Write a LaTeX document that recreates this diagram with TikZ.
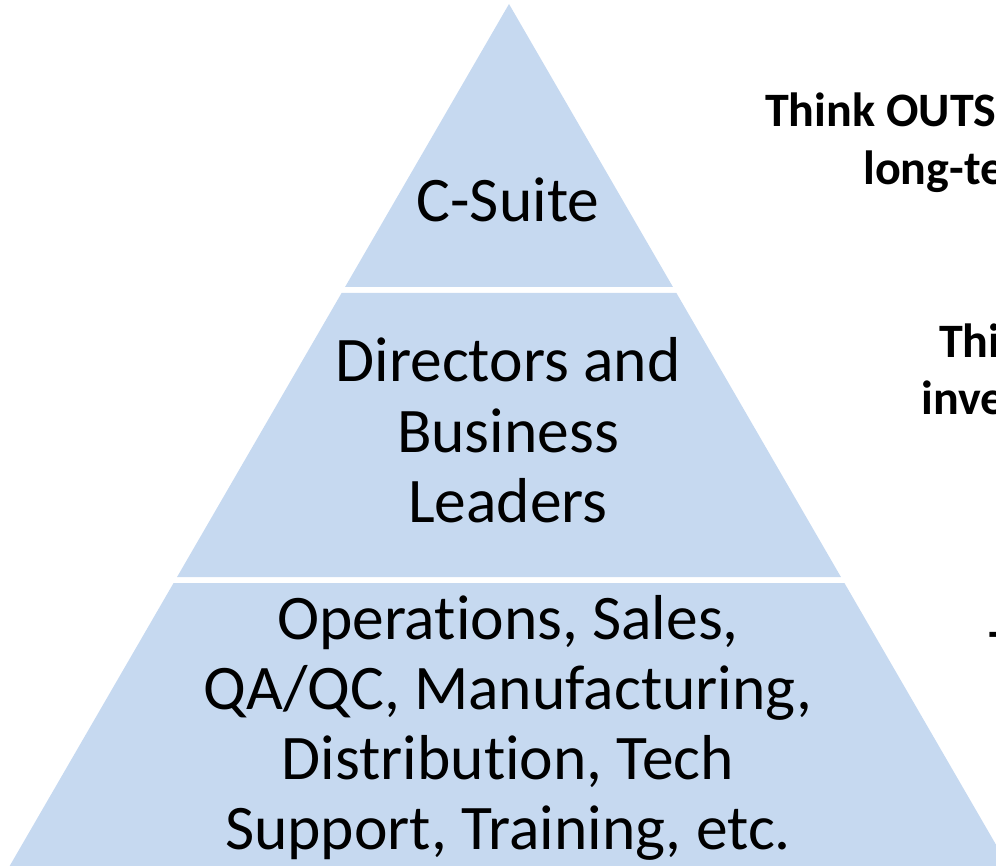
\documentclass[tikz,border=0pt]{standalone}
\usepackage{fontspec}
\setmainfont{Carlito}[Ligatures={NoCommon,NoRequired,NoContextual}]
\definecolor{tierblue}{RGB}{198,217,240}
\tikzset{
  tier/.style={fill=tierblue, draw=none},
  bigtext/.style={font=\fontsize{63.5}{70}\selectfont, anchor=base, inner sep=0pt},
  sidetext/.style={font=\fontsize{48}{58}\selectfont\bfseries, anchor=base west, inner sep=0pt}
}
\newcommand{\lx}[1]{\fpeval{509-0.5793*(#1-4)}}
\newcommand{\rx}[1]{\fpeval{509+0.5793*(#1-4)}}
\begin{document}
\begin{tikzpicture}[x=1pt,y=-1pt]
\useasboundingbox (0,0) rectangle (996,866);
\clip (0,0) rectangle (996,866);
% tiers
\fill[tier] (509,4) -- (\rx{287},287) -- (\lx{287},287) -- cycle;
\fill[tier] (\lx{293},293) -- (\rx{293},293) -- (\rx{577},577) -- (\lx{577},577) -- cycle;
\fill[tier] (\lx{583},583) -- (\rx{583},583) -- (\rx{870},870) -- (\lx{870},870) -- cycle;
% tier labels
\node[bigtext] (cs) at (508,222) {C-Suite};
\node[bigtext] (dir1) at (508,382) {Directors and};
\node[bigtext] (dir2) at (508,452) {Business};
\node[bigtext] (dir3) at (508,522) {Leaders};
\node[bigtext] (ops1) at (508,639) {Operations, Sales,};
\node[bigtext] (ops2) at (508,709) {QA/QC, Manufacturing,};
\node[bigtext] (ops3) at (508,779) {Distribution, Tech};
\node[bigtext] (ops4) at (508,849) {Support, Training, etc.};
% side texts (cut by the right edge, as in the reference)
\node[sidetext] (s1a) at (765,127) {Think OUTS};
\node[sidetext] (s1b) at (863,185) {long-te};
\node[sidetext] (s2a) at (939,358) {Thi};
\node[sidetext] (s2b) at (921,415) {inve};
\node[sidetext] (s3a) at (989,663) {T};
\end{tikzpicture}
\end{document}
